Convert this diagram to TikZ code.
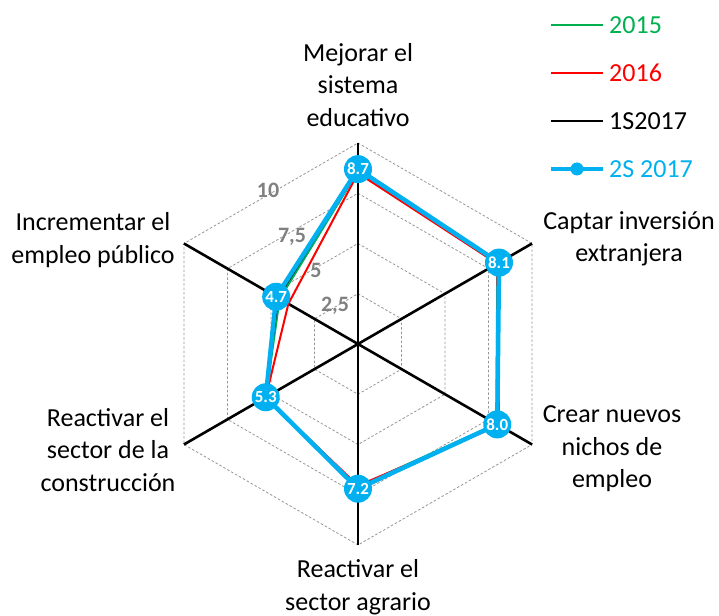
\documentclass[tikz,border=0pt]{standalone}
\usepackage{fontspec}
\setmainfont{Carlito}
\usetikzlibrary{calc}
\definecolor{cgreen}{RGB}{0,176,80}
\definecolor{cred}{RGB}{255,0,0}
\definecolor{cblue}{RGB}{0,176,240}
\definecolor{cgrid}{RGB}{150,150,150}
\definecolor{clabel}{RGB}{128,128,128}
\newcommand\kk{20.1}
\begin{document}
\begin{tikzpicture}[x=1pt,y=1pt,
  gridline/.style={cgrid,line width=0.8pt,dash pattern=on 2.5pt off 2pt},
  axisline/.style={black,line width=2.6pt},
  s15/.style={cgreen,line width=2pt,line join=round},
  s16/.style={cred,line width=2pt,line join=round},
  s17/.style={black,line width=2pt,line join=round},
  s2s/.style={cblue,line width=4.5pt,line join=round},
  markbox/.style={circle,fill=cblue,minimum size=28pt,inner sep=0pt,text=white,font=\bfseries\fontsize{17}{17}\selectfont},
  catlabel/.style={align=center,font=\fontsize{26}{32.5}\selectfont},
  ticklabel/.style={text=clabel,font=\bfseries\fontsize{22}{22}\selectfont,inner sep=0pt},
  legtext/.style={anchor=west,inner sep=0pt,font=\fontsize{26}{26}\selectfont}]
\useasboundingbox (-358,-271) rectangle (361,344);
% grid
\foreach \r in {2.5,5,7.5,10}
  \draw[gridline] (90:{\r*\kk}) -- (30:{\r*\kk}) -- (-30:{\r*\kk}) -- (-90:{\r*\kk}) -- (-150:{\r*\kk}) -- (150:{\r*\kk}) -- cycle;
% axes
\coordinate (o) at (0,0);
\foreach \a/\n in {90/a1,30/a2,-30/a3,-90/a4,-150/a5,150/a6}{
  \coordinate (\n) at (\a:{10*\kk});
  \draw[axisline] (o) -- (\n);
}
% tick labels
\node[ticklabel] (t10) at (-90,154) {10};
\node[ticklabel] (t75) at (-66,107) {7,5};
\node[ticklabel] (t5) at (-42,74) {5};
\node[ticklabel] (t25) at (-23,38) {2,5};
% series
\draw[s15] (90:{8.6*\kk}) -- (30:{8.0*\kk}) -- (-30:{7.95*\kk}) -- (-90:{7.1*\kk}) -- (-150:{5.3*\kk}) -- (150:{4.5*\kk}) -- cycle;
\draw[s16] (90:{8.5*\kk}) -- (30:{8.0*\kk}) -- (-30:{8.1*\kk}) -- (-90:{7.05*\kk}) -- (-150:{5.3*\kk}) -- (150:{4.0*\kk}) -- cycle;
\draw[s17] (90:{8.7*\kk}) -- (30:{8.1*\kk}) -- (-30:{8.0*\kk}) -- (-90:{7.25*\kk}) -- (-150:{5.3*\kk}) -- (150:{4.6*\kk}) -- cycle;
\coordinate (p1) at (90:{8.7*\kk});
\coordinate (p2) at (30:{8.1*\kk});
\coordinate (p3) at (-30:{8.0*\kk});
\coordinate (p4) at (-90:{7.2*\kk});
\coordinate (p5) at (-150:{5.3*\kk});
\coordinate (p6) at (150:{4.7*\kk});
\draw[s2s] (p1) -- (p2) -- (p3) -- (p4) -- (p5) -- (p6) -- cycle;
\node[markbox] (m1) at (p1) {8.7};
\node[markbox] (m2) at (p2) {8.1};
\node[markbox] (m3) at (p3) {8.0};
\node[markbox] (m4) at (p4) {7.2};
\node[markbox] (m5) at (p5) {5.3};
\node[markbox] (m6) at (p6) {4.7};
% category labels
\node[catlabel] (c1) at (0,259) {Mejorar el\\sistema\\educativo};
\node[catlabel] (c2) at (271,105) {Captar inversión\\extranjera};
\node[catlabel] (c3) at (254,-105) {Crear nuevos\\nichos de\\empleo};
\node[catlabel] (c4) at (0,-243) {Reactivar el\\sector agrario};
\node[catlabel] (c5) at (-250,-106) {Reactivar el\\sector de la\\construcción};
\node[catlabel] (c6) at (-265,104) {Incrementar el\\empleo público};
% legend
\coordinate (l1a) at (193,319); \coordinate (l1b) at (245,319);
\coordinate (l2a) at (193,271); \coordinate (l2b) at (245,271);
\coordinate (l3a) at (193,223); \coordinate (l3b) at (245,223);
\coordinate (l4a) at (193,175); \coordinate (l4b) at (245,175);
\draw[s15] (l1a) -- (l1b);
\draw[s16] (l2a) -- (l2b);
\draw[s17] (l3a) -- (l3b);
\draw[s2s] (l4a) -- (l4b);
\node[circle,fill=cblue,minimum size=13pt,inner sep=0pt] (lm) at ($(l4a)!0.5!(l4b)$) {};
\node[legtext,text=cgreen] (g1) at (251,319) {2015};
\node[legtext,text=cred] (g2) at (251,271) {2016};
\node[legtext,text=black] (g3) at (251,223) {1S2017};
\node[legtext,text=cblue] (g4) at (251,175) {2S 2017};
\end{tikzpicture}
\end{document}
